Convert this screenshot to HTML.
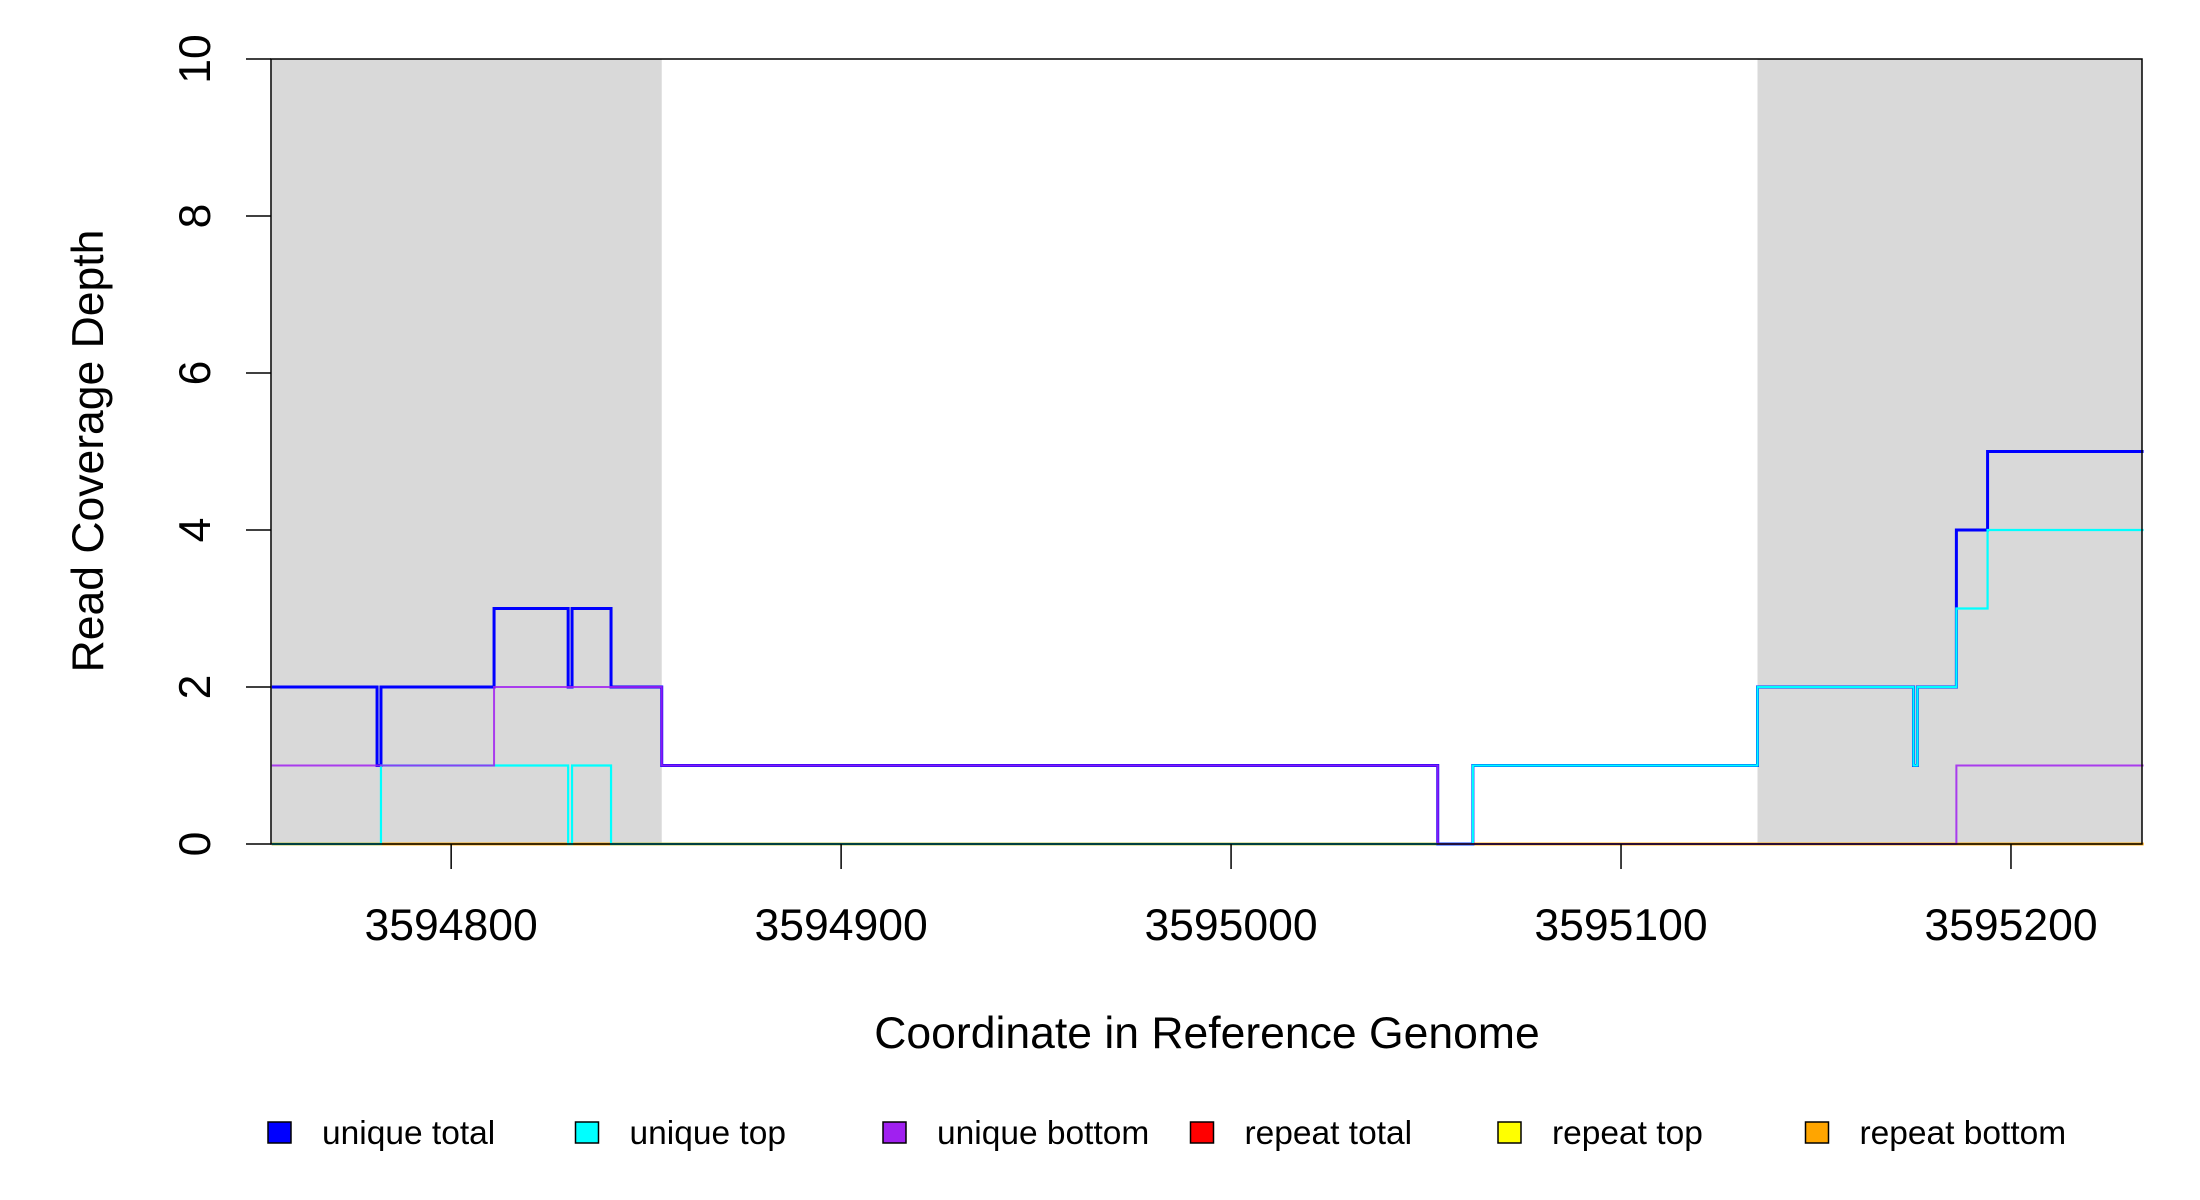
<!DOCTYPE html>
<html><head><meta charset="utf-8"><style>
html,body{margin:0;padding:0;background:#fff;}
svg{display:block;font-family:"Liberation Sans",sans-serif;}
</style></head><body>
<svg id="chart" width="2200" height="1200" viewBox="0 0 2200 1200" xmlns="http://www.w3.org/2000/svg">
<g id="shade"></g>
<g id="series"></g>
<g id="axes"></g>
<text x="0" y="0" transform="translate(103,451) rotate(-90)" text-anchor="middle" font-size="44.5">Read Coverage Depth</text>
<text x="1207" y="1048" text-anchor="middle" font-size="44.5">Coordinate in Reference Genome</text>
<g id="legend"></g>
</svg>
<script>
const breaks = [3594754,3594781,3594782,3594811,3594830,3594831,3594841,3594854,3595053,3595062,3595135,3595175,3595176,3595186,3595194,3595234];
const uniqueTotal  = [2,1,2,3,2,3,2,1,0,1,2,1,2,4,5];
const uniqueTop    = [0,0,1,1,0,1,0,0,0,1,2,1,2,3,4];
const uniqueBottom = [1,1,1,2,2,2,2,1,0,0,0,0,0,1,1];
const repeatTotal  = [0,0,0,0,0,0,0,0,0,0,0,0,0,0,0];
const repeatTop    = [0,0,0,0,0,0,0,0,0,0,0,0,0,0,0];
const repeatBottom = [0,0,0,0,0,0,0,0,0,0,0,0,0,0,0];
const shadeStarts = [3594754,3595135];
const shadeEnds   = [3594854,3595234];
const xTicks = [3594800,3594900,3595000,3595100,3595200];
const yTicks = [0,2,4,6,8,10];
const legendLabels = ["unique total","unique top","unique bottom","repeat total","repeat top","repeat bottom"];
const legendColors = ["#0000ff","#00ffff","#a020f0","#ff0000","#ffff00","#ffa500"];

const X0=271,X1=2142,Y0=844,Y1=59;
const xMin=3594753.8,xMax=3595233.6,yMin=0,yMax=10;
const xs=v=>X0+(v-xMin)/(xMax-xMin)*(X1-X0);
const ys=v=>Y0-(v-yMin)/(yMax-yMin)*(Y0-Y1);
const NS="http://www.w3.org/2000/svg";
function mk(tag,attrs,parent){const e=document.createElementNS(NS,tag);for(const k in attrs)e.setAttribute(k,attrs[k]);parent.appendChild(e);return e;}

const shade=document.getElementById('shade');
shadeStarts.forEach((s,i)=>{
  const a=Math.max(X0,xs(s)), b=Math.min(X1,xs(shadeEnds[i]));
  const r=mk('rect',{x:a,y:Y1,width:b-a,height:Y0-Y1,fill:'#d9d9d9'},shade);
  
  
});

const series=document.getElementById('series');
function stepPath(vals){
  let d='M'+xs(breaks[0])+','+ys(vals[0]);
  for(let i=0;i<vals.length;i++){
    if(i>0)d+=' L'+xs(breaks[i])+','+ys(vals[i]);
    d+=' L'+xs(breaks[i+1])+','+ys(vals[i]);
  }
  return d;
}
const defs=[[repeatTotal,'#ff0000',2.5,'repeat-total-line'],[repeatTop,'#ffff00',2.5,'repeat-top-line'],[repeatBottom,'#ffa500',2.5,'repeat-bottom-line'],
 [uniqueTotal,'#0000ff',3,'unique-total-line'],[uniqueTop,'#00ffff',2.2,'unique-top-line'],[uniqueBottom,'#a020f0',2,'unique-bottom-line']];
defs.forEach(([v,c,w,n])=>{
  const p=mk('path',{d:stepPath(v),fill:'none',stroke:c,'stroke-width':w,opacity:(n==='unique-bottom-line'?0.85:1)},series);
  
  
});

const axes=document.getElementById('axes');
const box=mk('rect',{x:X0,y:Y1,width:X1-X0,height:Y0-Y1,fill:'none',stroke:'#000','stroke-width':1.5},axes);


yTicks.forEach(t=>{
  const l=mk('line',{x1:246,x2:X0,y1:ys(t),y2:ys(t),stroke:'#000','stroke-width':1.5},axes);
  
  
  const tx=mk('text',{transform:`translate(210,${ys(t)}) rotate(-90)`,'text-anchor':'middle','font-size':44.5},axes);
  tx.textContent=t;
  
  
});
xTicks.forEach(t=>{
  const l=mk('line',{x1:xs(t),x2:xs(t),y1:Y0,y2:869,stroke:'#000','stroke-width':1.5},axes);
  
  
  const tx=mk('text',{x:xs(t),y:940,'text-anchor':'middle','font-size':44.5},axes);
  tx.textContent=t;
  
  
});

const legend=document.getElementById('legend');
legendLabels.forEach((lab,i)=>{
  const bx=268+i*307.5;
  const g=mk('g',{},legend);
  
  
  mk('rect',{x:bx,y:1122,width:23,height:21,fill:legendColors[i],stroke:'#000','stroke-width':1.5},g);
  const t=mk('text',{x:bx+54,y:1144,'font-size':33.5},g);
  t.textContent=lab;
});
</script>
</body></html>
